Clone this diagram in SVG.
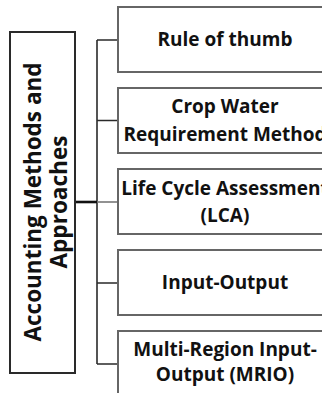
<svg xmlns="http://www.w3.org/2000/svg" width="322" height="393" viewBox="0 0 322 393">
<style>
.bg{fill:#fff}
.main{fill:#fff;stroke:#2a2a2a;stroke-width:2}
.box{fill:#fff;stroke:#666;stroke-width:2}
.t{font-family:"Open Sans","Noto Sans",sans-serif;font-weight:bold;fill:#111;text-anchor:middle}
.r{font-size:19px}
.l{font-size:24px}
.ln{stroke:#2a2a2a;stroke-width:1.6;fill:none}
.thick{stroke:#111;stroke-width:2.6;fill:none}
</style>
<rect class="bg" width="322" height="393"/>
<g id="connectors">
<path class="ln" d="M97,40 V364"/>
<path class="ln" d="M97,40 H118 M97,120.5 H118 M97,283 H118 M97,364 H118"/>
<path class="ln" style="stroke:#777" d="M97,202 H118"/>
<path class="thick" d="M75,202 H97"/>
</g>
<g id="root">
<rect class="main" x="10" y="32" width="65" height="341"/>
<text class="t l" transform="translate(42,202) rotate(-90)"><tspan x="0" y="-1" textLength="279" lengthAdjust="spacingAndGlyphs">Accounting Methods and</tspan><tspan x="0" y="25" textLength="133" lengthAdjust="spacingAndGlyphs">Approaches</tspan></text>
</g>
<g id="n1">
<rect class="box" x="118" y="7" width="214" height="65"/>
<text class="t r" x="225" y="46">Rule of thumb</text>
</g>
<g id="n2">
<rect class="box" x="118" y="88" width="214" height="65"/>
<text class="t r"><tspan x="225" y="113">Crop Water</tspan><tspan x="225" y="141">Requirement Method</tspan></text>
</g>
<g id="n3">
<rect class="box" x="118" y="169" width="214" height="65"/>
<text class="t r"><tspan x="225" y="195">Life Cycle Assessment</tspan><tspan x="225" y="222">(LCA)</tspan></text>
</g>
<g id="n4">
<rect class="box" x="118" y="250" width="214" height="65"/>
<text class="t r" x="225" y="289">Input-Output</text>
</g>
<g id="n5">
<rect class="box" x="118" y="331" width="214" height="65"/>
<text class="t r"><tspan x="225" y="356">Multi-Region Input-</tspan><tspan x="225" y="381">Output (MRIO)</tspan></text>
</g>
</svg>
